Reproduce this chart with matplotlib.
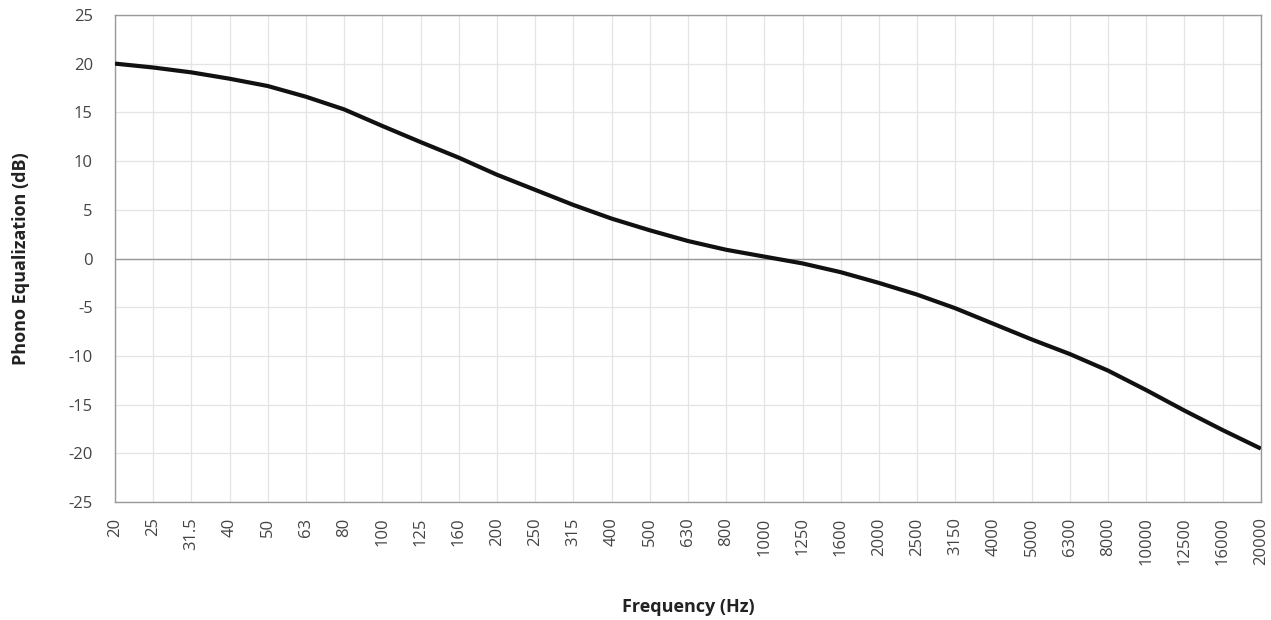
import matplotlib.pyplot as plt

# Frequências (1/3 de oitava) e equalização phono
freq_labels = ['20', '25', '31.5', '40', '50', '63', '80', '100', '125', '160',
               '200', '250', '315', '400', '500', '630', '800', '1000', '1250', '1600',
               '2000', '2500', '3150', '4000', '5000', '6300', '8000', '10000', '12500',
               '16000', '20000']
eq_db = [20.0, 19.6, 19.1, 18.45, 17.7, 16.6, 15.3, 13.6, 11.95, 10.35,
         8.6, 7.05, 5.5, 4.1, 2.9, 1.8, 0.9, 0.2, -0.5, -1.4,
         -2.5, -3.7, -5.1, -6.7, -8.3, -9.8, -11.5, -13.5, -15.6, -17.6,
         -19.5]

plt.rcParams['font.family'] = ['Open Sans', 'DejaVu Sans']
plt.rcParams['axes.unicode_minus'] = False

fig = plt.figure(figsize=(12.71, 6.2), dpi=100)
ax = fig.add_axes([0.0905, 0.19, 0.9015, 0.786])

x = list(range(len(freq_labels)))
ax.plot(x, eq_db, color='#111111', linewidth=3.0, solid_capstyle='butt', zorder=3)

ax.set_xlim(0, len(freq_labels) - 1)
ax.set_ylim(-25, 25)
ax.set_yticks(range(-25, 30, 5))
ax.set_xticks(x)
ax.set_xticklabels(freq_labels, rotation=90)

ax.grid(True, color='#e4e4e4', linewidth=0.9)
ax.axhline(0, color='#999999', linewidth=1.0, zorder=2)
ax.set_axisbelow(True)
for s in ax.spines.values():
    s.set_color('#999999')
    s.set_linewidth(1.0)

ax.tick_params(length=0, labelsize=12, labelcolor='#444444')
ax.tick_params(axis='x', pad=11)
ax.tick_params(axis='y', pad=16)
ax.set_xlabel('Frequency (Hz)', fontsize=13, fontweight='bold', color='#222222')
ax.set_ylabel('Phono Equalization (dB)', fontsize=13, fontweight='bold', color='#222222')
ax.xaxis.set_label_coords(0.5, -0.197)
ax.yaxis.set_label_coords(-0.074, 0.5)

plt.savefig('out.png', dpi=100)
